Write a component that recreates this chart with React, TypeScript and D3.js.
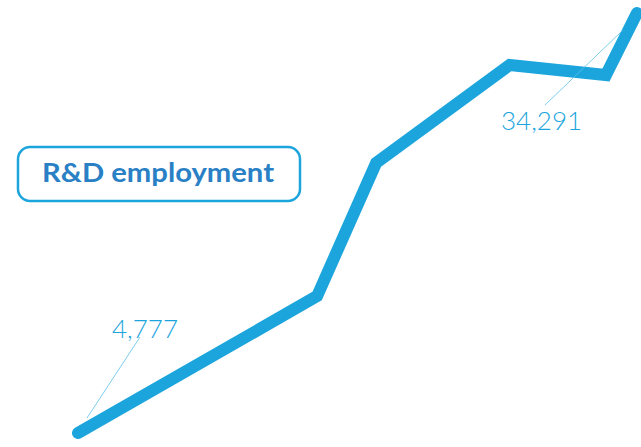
import React from "react";
import * as d3 from "d3";

const years = [2000, 2007.7, 2009.6, 2013.9, 2017, 2018];
const employment = [4777, 14400, 23750, 30640, 29930, 34291];
const labelFirst = "4,777";
const labelLast = "34,291";
const title = "R&D employment";

const W = 641;
const H = 447;

export default function App() {
  const x = d3.scaleLinear().domain([2000, 2018]).range([78, 637]);
  const y = d3.scaleLinear().domain([4777, 34291]).range([433, 13]);
  const pts = years.map((yr, i) => [x(yr), y(employment[i])] as [number, number]);
  const line = d3.line<[number, number]>()(pts) || "";
  const p0 = pts[0];
  const pN = pts[pts.length - 1];
  const blue = "#1ca5dd";
  return (
    <svg
      width={W}
      height={H}
      style={{ position: "absolute", left: 0, top: 0, background: "#fff" }}
    >
      <path
        d={line}
        fill="none"
        stroke={blue}
        strokeWidth={12}
        strokeLinecap="round"
        strokeLinejoin="miter"
      />
      <line x1={p0[0] + 9} y1={p0[1] - 15} x2={p0[0] + 62} y2={p0[1] - 96} stroke="#5bc0e8" strokeWidth={0.8} />
      <text x={p0[0] + 34} y={p0[1] - 95} fill={blue} fontFamily="Lato, 'Open Sans', sans-serif" fontWeight={300} fontSize={26}>
        {labelFirst}
      </text>
      <line x1={pN[0] - 92} y1={pN[1] + 92} x2={pN[0] - 14} y2={pN[1] + 17} stroke="#5bc0e8" strokeWidth={0.8} />
      <text x={pN[0] - 136} y={pN[1] + 117} fill={blue} fontFamily="Lato, 'Open Sans', sans-serif" fontWeight={300} fontSize={26}>
        {labelLast}
      </text>
      <rect x={18} y={147} width={282} height={54} rx={12} ry={12} fill="#fff" stroke={blue} strokeWidth={2.5} />
      <text
        x={42}
        y={182}
        textLength={232}
        lengthAdjust="spacingAndGlyphs"
        fill="#2a80c5"
        fontFamily="Lato, 'Open Sans', sans-serif"
        fontWeight={700}
        fontSize={27}
      >
        {title}
      </text>
    </svg>
  );
}
